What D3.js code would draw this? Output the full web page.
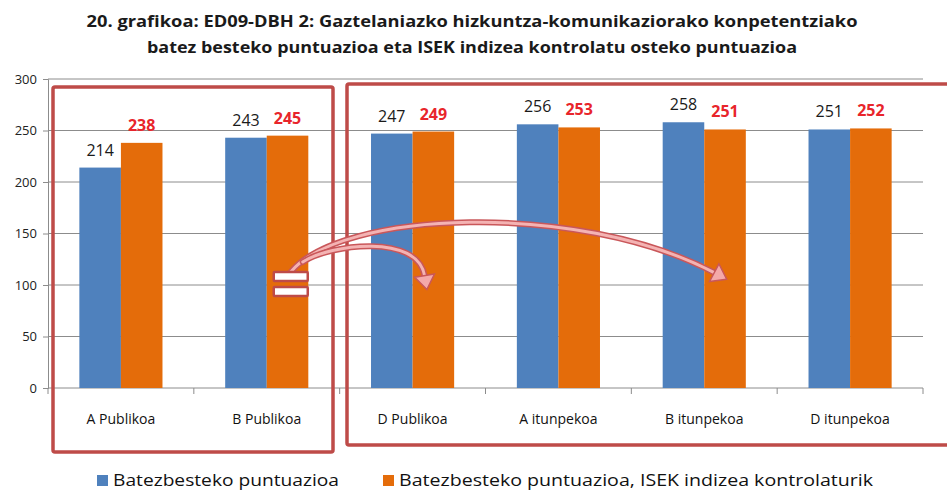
<!DOCTYPE html>
<html>
<head>
<meta charset="utf-8">
<script src="https://cdn.jsdelivr.net/npm/d3@7"></script>
<style>
  body { margin: 0; background: #fff; }
  svg { display: block; font-family: "Open Sans", sans-serif; }
</style>
</head>
<body>
<div id="chart"></div>
<script>
// data
var categories = ["A Publikoa", "B Publikoa", "D Publikoa", "A itunpekoa", "B itunpekoa", "D itunpekoa"];
var batez = [214, 243, 247, 256, 258, 251];
var isek = [238, 245, 249, 253, 251, 252];
var seriesNames = ["Batezbesteko puntuazioa", "Batezbesteko puntuazioa, ISEK indizea kontrolaturik"];
var yTicks = [0, 50, 100, 150, 200, 250, 300];
var titleLines = [
  "20. grafikoa: ED09-DBH  2: Gaztelaniazko hizkuntza-komunikaziorako konpetentziako",
  "batez besteko puntuazioa eta ISEK indizea kontrolatu osteko puntuazioa"
];

var width = 947, height = 492;
var colors = ["#4f81bd", "#e46c0a"];
var boxRed = "#be4b48";

var svg = d3.select("#chart").append("svg").attr("width", width).attr("height", height);

var x = d3.scaleBand().domain(categories).range([48, 923]).paddingInner(0.43).paddingOuter(0.215);
var xs = d3.scaleBand().domain([0, 1]).range([0, x.bandwidth()]);
var y = d3.scaleLinear().domain([0, 300]).range([388, 79]);

// title
var titleW = [771, 650];
titleLines.forEach(function(t, i) {
  svg.append("text").attr("x", 472).attr("y", 27 + i * 26)
    .attr("text-anchor", "middle").attr("font-size", 16).attr("font-weight", "bold")
    .attr("fill", "#1a1a1a")
    .attr("textLength", titleW[i]).attr("lengthAdjust", "spacingAndGlyphs")
    .text(t);
});

// gridlines
svg.append("g").selectAll("line").data(yTicks.slice(1)).enter().append("line")
  .attr("x1", 48).attr("x2", 923)
  .attr("y1", function(d) { return y(d); }).attr("y2", function(d) { return y(d); })
  .attr("stroke", "#8c8c8c").attr("stroke-width", 1);

// y axis
var yAxis = svg.append("g").attr("transform", "translate(48,0)")
  .call(d3.axisLeft(y).tickValues(yTicks).tickSize(5).tickPadding(6));
yAxis.select(".domain").attr("stroke", "#8c8c8c");
yAxis.selectAll(".tick line").attr("stroke", "#8c8c8c");
yAxis.selectAll("text").attr("font-size", 13).attr("fill", "#222").attr("font-family", "Open Sans, sans-serif");

// x axis
var xAxisG = svg.append("g").attr("transform", "translate(0,388)");
xAxisG.append("line").attr("x1", 48).attr("x2", 923).attr("stroke", "#8c8c8c");
var bounds = categories.map(function(c) { return x(c) - x.step() * x.paddingInner() / 2; });
bounds.push(923);
xAxisG.selectAll(".tk").data(bounds).enter().append("line")
  .attr("x1", function(d) { return d; }).attr("x2", function(d) { return d; })
  .attr("y1", 0).attr("y2", 6).attr("stroke", "#8c8c8c");
xAxisG.selectAll(".lbl").data(categories).enter().append("text")
  .attr("x", function(d) { return x(d) + x.bandwidth() / 2; })
  .attr("y", 36).attr("text-anchor", "middle").attr("font-size", 14).attr("fill", "#111")
  .text(function(d) { return d; });

// bars
var series = [batez, isek];
series.forEach(function(vals, s) {
  svg.append("g").selectAll("rect").data(vals).enter().append("rect")
    .attr("x", function(d, i) { return x(categories[i]) + xs(s); })
    .attr("y", function(d) { return y(d); })
    .attr("width", xs.bandwidth())
    .attr("height", function(d) { return y(0) - y(d); })
    .attr("fill", colors[s]);
  svg.append("g").selectAll("text").data(vals).enter().append("text")
    .attr("x", function(d, i) { return x(categories[i]) + xs(s) + xs.bandwidth() / 2; })
    .attr("y", function(d) { return y(d) - 12; })
    .attr("text-anchor", "middle").attr("font-size", 16)
    .attr("font-weight", s === 1 ? "bold" : "normal")
    .attr("fill", s === 1 ? "#e8252b" : "#1a1a1a")
    .text(function(d) { return d; });
});

// red group boxes
svg.append("rect").attr("x", 53).attr("y", 87).attr("width", 280).attr("height", 365)
  .attr("fill", "none").attr("stroke", boxRed).attr("stroke-width", 3.5).attr("rx", 2);
svg.append("rect").attr("x", 347).attr("y", 84).attr("width", 610).attr("height", 361)
  .attr("fill", "none").attr("stroke", boxRed).attr("stroke-width", 3.5).attr("rx", 2);

// curved arrows from the "=" sign
function arrow(p0, c1, c2, p1) {
  var path = d3.path();
  path.moveTo(p0[0], p0[1]);
  path.bezierCurveTo(c1[0], c1[1], c2[0], c2[1], p1[0], p1[1]);
  var g = svg.append("g");
  g.append("path").attr("d", path.toString()).attr("fill", "none")
    .attr("stroke", "#c9575a").attr("stroke-width", 6).attr("stroke-linecap", "round");
  g.append("path").attr("d", path.toString()).attr("fill", "none")
    .attr("stroke", "#f4b3b3").attr("stroke-width", 3).attr("stroke-linecap", "round");
  var ang = Math.atan2(p1[1] - c2[1], p1[0] - c2[0]);
  var tip = [p1[0] + 14 * Math.cos(ang), p1[1] + 14 * Math.sin(ang)];
  var w = 10;
  var pts = [
    tip,
    [p1[0] + w * Math.cos(ang + Math.PI / 2), p1[1] + w * Math.sin(ang + Math.PI / 2)],
    [p1[0] + w * Math.cos(ang - Math.PI / 2), p1[1] + w * Math.sin(ang - Math.PI / 2)]
  ];
  g.append("polygon").attr("points", pts.map(function(p) { return p.join(","); }).join(" "))
    .attr("fill", "#f4a9a9").attr("stroke", "#c9575a").attr("stroke-width", 1.5);
}
var eqX = x("B Publikoa") + x.bandwidth() / 2 + 24;
var eqY = y(101);
arrow([eqX, eqY - 12], [eqX + 50, y(172)], [x("A itunpekoa") + 60, y(182)],
  [x("B itunpekoa") + xs(1) + 10, y(112)]);
arrow([eqX + 12, eqY - 22], [eqX + 40, y(140)], [x("D Publikoa") + xs(1) + 5, y(150)],
  [x("D Publikoa") + xs(1) + 12, y(109)]);

// "=" sign
[0, 15].forEach(function(dy) {
  svg.append("rect").attr("x", eqX - 17).attr("y", eqY - 12 + dy).attr("width", 34).attr("height", 9)
    .attr("fill", "#fff").attr("stroke", boxRed).attr("stroke-width", 2.5).attr("rx", 1);
});

// legend
var legX = [97, 383];
var legW = [226, 474];
seriesNames.forEach(function(n, i) {
  svg.append("rect").attr("x", legX[i]).attr("y", 475).attr("width", 11).attr("height", 11).attr("fill", colors[i]);
  svg.append("text").attr("x", legX[i] + 16).attr("y", 486).attr("font-size", 16).attr("fill", "#111")
    .attr("textLength", legW[i]).attr("lengthAdjust", "spacingAndGlyphs")
    .text(n);
});
</script>
</body>
</html>
